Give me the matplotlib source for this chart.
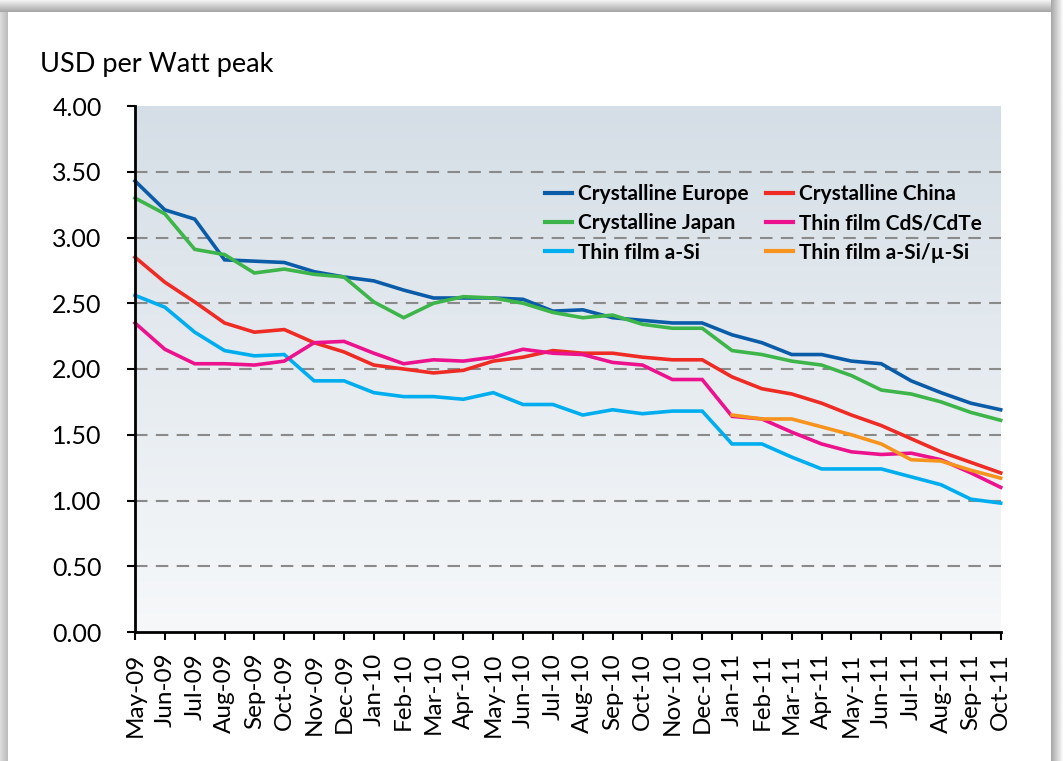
import numpy as np
import matplotlib
matplotlib.use("Agg")
import matplotlib.pyplot as plt

plt.rcParams['font.family'] = ['Lato', 'DejaVu Sans']

months = ["May-09", "Jun-09", "Jul-09", "Aug-09", "Sep-09", "Oct-09", "Nov-09", "Dec-09",
          "Jan-10", "Feb-10", "Mar-10", "Apr-10", "May-10", "Jun-10", "Jul-10", "Aug-10",
          "Sep-10", "Oct-10", "Nov-10", "Dec-10", "Jan-11", "Feb-11", "Mar-11", "Apr-11",
          "May-11", "Jun-11", "Jul-11", "Aug-11", "Sep-11", "Oct-11"]

crystalline_europe = [3.43, 3.21, 3.14, 2.83, 2.82, 2.81, 2.74, 2.70, 2.67, 2.60,
                      2.54, 2.54, 2.54, 2.53, 2.44, 2.45, 2.39, 2.37, 2.35, 2.35,
                      2.26, 2.20, 2.11, 2.11, 2.06, 2.04, 1.91, 1.82, 1.74, 1.69]
crystalline_japan = [3.30, 3.18, 2.91, 2.87, 2.73, 2.76, 2.72, 2.70, 2.51, 2.39,
                     2.50, 2.55, 2.54, 2.50, 2.43, 2.39, 2.41, 2.34, 2.31, 2.31,
                     2.14, 2.11, 2.06, 2.03, 1.95, 1.84, 1.81, 1.75, 1.67, 1.61]
crystalline_china = [2.85, 2.66, 2.51, 2.35, 2.28, 2.30, 2.20, 2.13, 2.03, 2.00,
                     1.97, 1.99, 2.06, 2.09, 2.14, 2.12, 2.12, 2.09, 2.07, 2.07,
                     1.94, 1.85, 1.81, 1.74, 1.65, 1.57, 1.47, 1.37, 1.29, 1.21]
thin_cdte = [2.35, 2.15, 2.04, 2.04, 2.03, 2.06, 2.20, 2.21, 2.12, 2.04,
             2.07, 2.06, 2.09, 2.15, 2.12, 2.11, 2.05, 2.03, 1.92, 1.92,
             1.64, 1.62, 1.52, 1.43, 1.37, 1.35, 1.36, 1.31, 1.21, 1.10]
thin_asi = [2.56, 2.47, 2.28, 2.14, 2.10, 2.11, 1.91, 1.91, 1.82, 1.79,
            1.79, 1.77, 1.82, 1.73, 1.73, 1.65, 1.69, 1.66, 1.68, 1.68,
            1.43, 1.43, 1.33, 1.24, 1.24, 1.24, 1.18, 1.12, 1.01, 0.98]
thin_asi_musi = [None] * 20 + [1.65, 1.62, 1.62, 1.56, 1.50, 1.43, 1.31, 1.30, 1.23, 1.17]

y_ticks = [0.0, 0.5, 1.0, 1.5, 2.0, 2.5, 3.0, 3.5, 4.0]
y_label = "USD per Watt peak"

series = [
    ("Crystalline Europe", crystalline_europe, "#0b5ca8"),
    ("Crystalline Japan", crystalline_japan, "#3db54a"),
    ("Thin film a-Si", thin_asi, "#00aeef"),
    ("Crystalline China", crystalline_china, "#ee2b24"),
    ("Thin film CdS/CdTe", thin_cdte, "#ec128d"),
    ("Thin film a-Si/\u00b5-Si", thin_asi_musi, "#f7941e"),
]

W, H = 1063, 761
fig = plt.figure(figsize=(W / 100, H / 100), dpi=100, facecolor="white")

# frame shadow (decorative)
bg = fig.add_axes([0, 0, 1, 1], zorder=-5)
bg.axis("off")
top = np.linspace(0.95, 0.66, 12).reshape(-1, 1)
bg.imshow(np.repeat(top, 2, axis=1), cmap="gray", vmin=0, vmax=1,
          extent=[0, 1052, 12, 0], aspect="auto", interpolation="bilinear")
left = np.linspace(0.86, 0.74, 8).reshape(1, -1)
bg.imshow(np.repeat(left, 2, axis=0), cmap="gray", vmin=0, vmax=1,
          extent=[0, 8, H, 12], aspect="auto", interpolation="bilinear")
right = np.linspace(0.66, 0.97, 12).reshape(1, -1)
bg.imshow(np.repeat(right, 2, axis=0), cmap="gray", vmin=0, vmax=1,
          extent=[1051, W, H, 0], aspect="auto", interpolation="bilinear")
bg.set_xlim(0, W)
bg.set_ylim(H, 0)

ax = fig.add_axes([135 / W, 1 - 632 / H, (1000.7 - 135) / W, (632 - 106) / H])
x = np.arange(len(months))
ax.set_xlim(0, len(months) - 1)
ax.set_ylim(0, 4.0)

# gradient background
grad = np.linspace(0, 1, 256).reshape(-1, 1)
top_c = np.array([0.835, 0.871, 0.902])
bot_c = np.array([0.965, 0.973, 0.980])
img = bot_c + (top_c - bot_c) * grad
img = np.repeat(img[:, None, :], 2, axis=1)
ax.imshow(img, extent=[0, len(months) - 1, 0, 4.0], origin="lower",
          aspect="auto", zorder=0, interpolation="bilinear")

for yv in y_ticks[1:-1]:
    ax.axhline(yv, color="#8a8a8a", lw=1.5, ls=(0, (6, 4)), zorder=1)

handles = []
for name, vals, col in series:
    v = np.array([np.nan if a is None else a for a in vals], dtype=float)
    ln, = ax.plot(x, v, color=col, lw=2.6, solid_joinstyle="miter", zorder=3,
                  label=name, clip_on=False)
    handles.append(ln)

ax.set_xticks(x)
ax.set_xticklabels(months, rotation=90, fontsize=17.5)
ax.set_yticks(y_ticks)
ax.set_yticklabels([f"{v:.2f}" for v in y_ticks], fontsize=18)
ax.tick_params(axis="y", direction="out", length=6, width=1.5, pad=18, colors="black")
ax.tick_params(axis="x", direction="out", length=6, width=1.5, pad=9, colors="black")
for s in ["top", "right"]:
    ax.spines[s].set_visible(False)
for s in ["left", "bottom"]:
    ax.spines[s].set_linewidth(2)
    ax.spines[s].set_color("black")
    ax.spines[s].set_zorder(4)

fig.text(40 / W, 1 - 72 / H, y_label, fontsize=19.5, ha="left", va="baseline")

leg = ax.legend(handles=handles, ncol=2, loc="upper left",
                bbox_to_anchor=((545 - 135) / (1000.7 - 135), (632 - 184) / (632 - 106)),
                frameon=False, prop={"weight": "bold", "size": 15},
                handlelength=1.3, handletextpad=0.3, columnspacing=0.8,
                labelspacing=0.45, borderaxespad=0, borderpad=0)
for lh in leg.get_lines():
    lh.set_linewidth(3)

fig.savefig("out.png", dpi=100, facecolor="white")
